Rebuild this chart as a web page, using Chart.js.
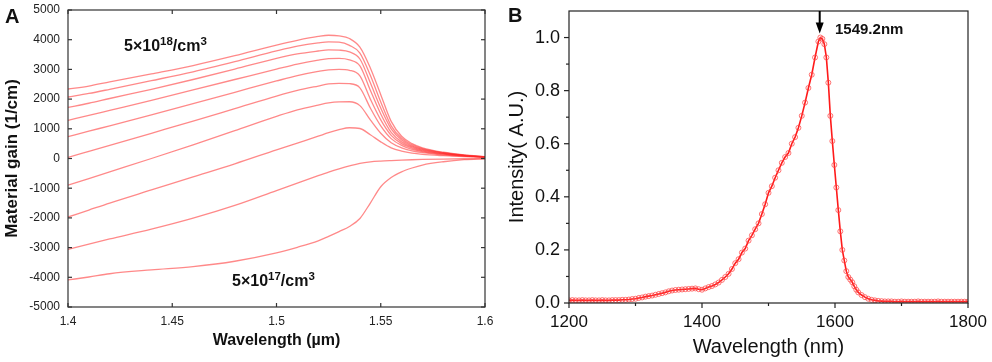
<!DOCTYPE html>
<html><head><meta charset="utf-8">
<script src="https://cdn.jsdelivr.net/npm/chart.js@4.4.0/dist/chart.umd.min.js"></script>
<style>
html,body{margin:0;padding:0;background:#fff;}
body{width:992px;height:362px;position:relative;overflow:hidden;font-family:'Liberation Sans',Arial,sans-serif;}
canvas{position:absolute;top:0;}
#cb{left:490px;} #ca{left:0;z-index:2;}
.lbl{position:absolute;font-weight:bold;color:#111;white-space:nowrap;line-height:1;z-index:3;}
.lbl sup{font-size:0.72em;vertical-align:0;position:relative;top:-0.5em;}
</style></head><body>
<canvas id="cb" width="502" height="362"></canvas>
<canvas id="ca" width="500" height="362"></canvas>
<div class="lbl" style="left:5px;top:6px;font-size:20px">A</div>
<div class="lbl" style="left:508px;top:5px;font-size:20px">B</div>
<div class="lbl" style="left:124px;top:38px;font-size:16px">5×10<sup>18</sup>/cm<sup>3</sup></div>
<div class="lbl" style="left:232px;top:273px;font-size:16px">5×10<sup>17</sup>/cm<sup>3</sup></div>
<div class="lbl" style="left:835px;top:21px;font-size:15px">1549.2nm</div>
<script>
// ---------- Panel A: material gain ----------
const gainWavelength = [1.40,1.41,1.42,1.44,1.46,1.48,1.50,1.51,1.52,1.525,1.53,1.535,1.54,1.545,1.55,1.555,1.56,1.565,1.57,1.58,1.59,1.60];
const gainCurve1  = [2340,2440,2580,2850,3130,3460,3820,3980,4110,4150,4130,4040,3750,3050,2150,1250,750,500,360,210,120,60];
const gainCurve2  = [2070,2190,2330,2620,2920,3260,3620,3780,3890,3925,3915,3810,3550,2800,1900,1100,680,460,330,195,112,58];
const gainCurve3  = [1720,1860,2020,2330,2660,3010,3370,3520,3620,3660,3650,3590,3350,2550,1700,1000,620,420,305,185,105,55];
const gainCurve4  = [1285,1450,1620,1960,2310,2660,3010,3180,3310,3360,3370,3320,3120,2300,1500,880,560,390,285,170,100,52];
const gainCurve5  = [735,920,1100,1470,1850,2230,2610,2790,2930,2985,3000,2970,2780,2000,1300,780,500,350,260,160,95,50];
const gainCurve6  = [40,240,440,850,1260,1680,2100,2290,2440,2510,2530,2520,2380,1700,1100,670,440,310,235,145,88,48];
const gainCurve7  = [-900,-675,-450,0,460,940,1420,1640,1800,1870,1905,1910,1780,1300,850,530,360,260,200,125,78,45];
const gainCurve8  = [-1970,-1735,-1500,-1060,-620,-180,290,520,750,870,970,1035,1010,800,560,360,250,180,140,95,62,40];
const gainCurve9  = [-3060,-2880,-2710,-2380,-2010,-1580,-1080,-830,-580,-460,-350,-250,-165,-115,-88,-70,-55,-42,-32,-18,-8,0];
const gainCurve10 = [-4090,-3990,-3880,-3750,-3640,-3460,-3180,-2990,-2770,-2620,-2460,-2290,-2020,-1500,-950,-640,-450,-320,-220,-110,-40,-10];
const gainTicksX = [1.4,1.45,1.5,1.55,1.6];
const gainTicksY = [-5000,-4000,-3000,-2000,-1000,0,1000,2000,3000,4000,5000];

// ---------- Panel B: PL spectrum ----------
const plWavelength = [
 1200,1205,1210,1215,1220,1225,1230,1235,1240,1245,1250,1255,1260,1265,1270,
 1275,1280,1285,1290,1295,1300,1305,1310,1315,1320,1325,1330,1335,1340,1345,
 1350,1355,1360,1365,1370,1375,1380,1385,1390,1395,1400,1405,1410,1415,1420,
 1425,1430,1435,1440,1445,1450,1455,1460,1465,1470,1475,1480,1485,1490,1495,
 1500,1505,1510,1515,1520,1525,1530,1535,1540,1545,1550,1555,1560,1565,1570,1575,
 1578,1581,1584,1587,1590,1593,1596,1599,1602,1605,1608,1611,1614,1617,1620,
 1623,1626,1629,1632,1635,
 1640,1645,1650,1655,1660,1665,1670,1675,1680,1685,1690,1695,1700,1705,1710,
 1715,1720,1725,1730,1735,1740,1745,1750,1755,1760,1765,1770,1775,1780,1785,1790,1795,1800];
const plIntensity = [
 0.010,0.011,0.010,0.010,0.011,0.010,0.010,0.011,0.010,0.010,0.011,0.010,0.010,0.011,0.011,
 0.011,0.012,0.012,0.013,0.015,0.016,0.019,0.021,0.024,0.026,0.028,0.031,0.034,0.037,0.040,
 0.044,0.047,0.049,0.050,0.051,0.052,0.053,0.054,0.055,0.052,0.050,0.055,0.060,0.064,0.070,
 0.077,0.087,0.098,0.110,0.128,0.150,0.165,0.190,0.205,0.235,0.255,0.278,0.300,0.335,0.372,
 0.415,0.440,0.472,0.500,0.528,0.550,0.565,0.600,0.625,0.660,0.705,0.755,0.810,0.860,0.925,0.985,
 1.000,0.995,0.975,0.925,0.830,0.705,0.610,0.520,0.435,0.350,0.270,0.200,0.160,0.120,0.098,
 0.088,0.078,0.063,0.050,0.040,
 0.030,0.022,0.016,0.012,0.010,0.008,0.007,0.006,0.006,0.006,0.005,0.005,0.006,0.005,0.005,
 0.005,0.005,0.006,0.005,0.005,0.005,0.005,0.005,0.006,0.005,0.005,0.005,0.005,0.005,0.005,0.005,0.005,0.005];
const plTicksX = [1200,1400,1600,1800];
const plMinorX = [1300,1500,1700];
const plTicksY = [0,0.2,0.4,0.6,0.8,1.0];
const plMinorY = [0.1,0.3,0.5,0.7,0.9];
const peakArrowX = 1577;
const peakArrowTip = 1.015;

Chart.defaults.font.family = "'Liberation Sans', Arial, sans-serif";

const frameTicks = {
  id: 'frameTicks',
  afterDraw(chart, args, o) {
    const {ctx, chartArea: a, scales: {x, y}} = chart;
    ctx.save();
    ctx.strokeStyle = o.color; ctx.lineWidth = o.width;
    ctx.strokeRect(a.left, a.top, a.right - a.left, a.bottom - a.top);
    const s = o.inward ? -1 : 1;
    const seg = (x1, y1, x2, y2) => { ctx.beginPath(); ctx.moveTo(x1, y1); ctx.lineTo(x2, y2); ctx.stroke(); };
    const doX = (vals, len) => vals.forEach(v => { const p = x.getPixelForValue(v);
      seg(p, a.bottom, p, a.bottom + s * len); if (o.mirror) seg(p, a.top, p, a.top - s * len); });
    const doY = (vals, len) => vals.forEach(v => { const p = y.getPixelForValue(v);
      seg(a.left, p, a.left - s * len, p); if (o.mirror) seg(a.right, p, a.right + s * len, p); });
    doX(o.majorX, o.len); doY(o.majorY, o.len);
    doX(o.minorX || [], o.minorLen); doY(o.minorY || [], o.minorLen);
    ctx.restore();
  }
};

const peakArrow = {
  id: 'peakArrow',
  afterDraw(chart, args, o) {
    if (o.x === undefined) return;
    const {ctx, chartArea: a, scales: {x, y}} = chart;
    const px = x.getPixelForValue(o.x), tip = y.getPixelForValue(o.tip);
    ctx.save();
    ctx.strokeStyle = '#000'; ctx.fillStyle = '#000'; ctx.lineWidth = 2;
    ctx.beginPath(); ctx.moveTo(px, a.top); ctx.lineTo(px, tip - 8); ctx.stroke();
    ctx.beginPath(); ctx.moveTo(px - 4, tip - 11); ctx.lineTo(px + 4, tip - 11); ctx.lineTo(px, tip); ctx.closePath(); ctx.fill();
    ctx.restore();
  }
};

function fixSize(size, horizontal) {
  return function (scale) {
    if (horizontal) scale.height = size; else scale.width = size;
    scale.paddingLeft = 0; scale.paddingRight = 0; scale.paddingTop = 0; scale.paddingBottom = 0;
  };
}
function useTicks(arr) { return function (scale) { scale.ticks = arr.map(v => ({value: v})); }; }

const gainCurves = [gainCurve1, gainCurve2, gainCurve3, gainCurve4, gainCurve5, gainCurve6, gainCurve7, gainCurve8, gainCurve9, gainCurve10];

new Chart(document.getElementById('ca'), {
  type: 'line',
  data: {
    datasets: gainCurves.map(c => ({
      data: gainWavelength.map((w, i) => ({x: w, y: c[i]})),
      borderColor: 'rgba(255,40,40,0.55)', borderWidth: 1.3, pointRadius: 0,
      cubicInterpolationMode: 'monotone', fill: false
    }))
  },
  options: {
    responsive: false, animation: false, devicePixelRatio: 1,
    layout: {padding: {left: 0, top: 10, right: 15, bottom: 0}},
    plugins: {
      legend: {display: false}, tooltip: {enabled: false},
      frameTicks: {color: '#333', width: 1.2, inward: true, mirror: true, len: 4, minorLen: 2,
        majorX: gainTicksX, majorY: gainTicksY}
    },
    scales: {
      x: {
        type: 'linear', min: 1.4, max: 1.6,
        grid: {display: false, drawTicks: false}, border: {display: false},
        afterBuildTicks: useTicks(gainTicksX), afterFit: fixSize(55, true),
        ticks: {padding: 7, color: '#222', font: {size: 12}, maxRotation: 0, autoSkip: false, callback: v => String(v)},
        title: {display: true, text: 'Wavelength (µm)', color: '#111', font: {size: 16, weight: 'bold'}, padding: {top: 0, bottom: 12}}
      },
      y: {
        type: 'linear', min: -5000, max: 5000,
        grid: {display: false, drawTicks: false}, border: {display: false},
        afterBuildTicks: useTicks(gainTicksY), afterFit: fixSize(68, false),
        ticks: {padding: 8, color: '#222', font: {size: 12}, autoSkip: false, callback: v => String(v)},
        title: {display: true, text: 'Material gain (1/cm)', color: '#111', font: {size: 17, weight: 'bold'}, padding: {top: 2, bottom: 0}}
      }
    }
  },
  plugins: [frameTicks]
});

new Chart(document.getElementById('cb'), {
  type: 'line',
  data: {
    datasets: [{
      data: plWavelength.map((w, i) => ({x: w, y: plIntensity[i]})),
      borderColor: '#ff1a1a', borderWidth: 1.6, tension: 0,
      pointRadius: 2.5, pointBorderWidth: 1, pointBorderColor: 'rgba(255,70,70,0.75)',
      pointBackgroundColor: 'rgba(255,255,255,0)', fill: false
    }]
  },
  options: {
    responsive: false, animation: false, devicePixelRatio: 1,
    layout: {padding: {left: 0, top: 11, right: 24, bottom: 0}},
    plugins: {
      legend: {display: false}, tooltip: {enabled: false},
      frameTicks: {color: '#222', width: 1.2, inward: false, mirror: false, len: 5, minorLen: 3,
        majorX: plTicksX, majorY: plTicksY, minorX: plMinorX, minorY: plMinorY},
      peakArrow: {x: peakArrowX, tip: peakArrowTip}
    },
    scales: {
      x: {
        type: 'linear', min: 1200, max: 1800,
        grid: {display: false, drawTicks: false}, border: {display: false},
        afterBuildTicks: useTicks(plTicksX), afterFit: fixSize(59, true),
        ticks: {padding: 9, color: '#111', font: {size: 17}, maxRotation: 0, autoSkip: false, callback: v => String(v)},
        title: {display: true, text: 'Wavelength (nm)', color: '#111', font: {size: 20}, padding: {top: 0, bottom: 3}}
      },
      y: {
        type: 'linear', min: 0, max: 1.1,
        grid: {display: false, drawTicks: false}, border: {display: false},
        afterBuildTicks: useTicks(plTicksY), afterFit: fixSize(79, false),
        ticks: {padding: 9, color: '#111', font: {size: 18}, autoSkip: false, callback: v => v.toFixed(1)},
        title: {display: true, text: 'Intensity( A.U.)', color: '#111', font: {size: 20}, padding: {top: 15, bottom: 0}}
      }
    }
  },
  plugins: [frameTicks, peakArrow]
});
</script>
</body></html>
